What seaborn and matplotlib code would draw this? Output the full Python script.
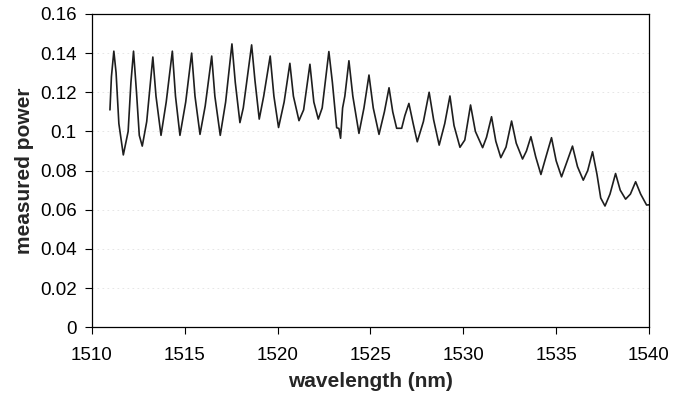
import matplotlib
matplotlib.use('Agg')
import matplotlib.pyplot as plt
import seaborn as sns
import pandas as pd

# values
wavelength = [1510.97, 1511.05, 1511.18, 1511.30, 1511.45, 1511.69, 1511.95, 1512.10, 1512.24, 1512.40,
              1512.55, 1512.71, 1512.95, 1513.28, 1513.45, 1513.72, 1514.00, 1514.33, 1514.50, 1514.74,
              1515.05, 1515.37, 1515.55, 1515.82, 1516.10, 1516.45, 1516.62, 1516.91, 1517.20, 1517.54,
              1517.72, 1517.97, 1518.15, 1518.60, 1518.78, 1519.01, 1519.25, 1519.60, 1519.80, 1520.05,
              1520.35, 1520.66, 1520.85, 1521.15, 1521.40, 1521.74, 1521.95, 1522.19, 1522.40, 1522.76,
              1522.95, 1523.18, 1523.30, 1523.39, 1523.50, 1523.62, 1523.84, 1524.05, 1524.38, 1524.65,
              1524.92, 1525.15, 1525.46, 1525.75, 1526.00, 1526.20, 1526.41, 1526.68, 1526.85, 1527.07,
              1527.30, 1527.52, 1527.85, 1528.16, 1528.40, 1528.70, 1529.00, 1529.28, 1529.50, 1529.82,
              1530.08, 1530.39, 1530.65, 1531.04, 1531.25, 1531.52, 1531.75, 1532.02, 1532.30, 1532.60,
              1532.85, 1533.19, 1533.40, 1533.64, 1533.90, 1534.18, 1534.45, 1534.75, 1535.00, 1535.29,
              1535.60, 1535.88, 1536.15, 1536.46, 1536.70, 1536.96, 1537.20, 1537.40, 1537.63, 1537.90,
              1538.20, 1538.45, 1538.74, 1539.00, 1539.28, 1539.55, 1539.87, 1540.00]
power = [0.111, 0.128, 0.141, 0.130, 0.104, 0.088, 0.100, 0.125, 0.141, 0.120,
         0.098, 0.0925, 0.105, 0.138, 0.118, 0.098, 0.115, 0.141, 0.118, 0.098,
         0.115, 0.140, 0.118, 0.0985, 0.113, 0.1385, 0.118, 0.098, 0.115, 0.1447,
         0.125, 0.1045, 0.112, 0.1442, 0.126, 0.1063, 0.118, 0.1385, 0.118, 0.102,
         0.115, 0.1348, 0.118, 0.1055, 0.111, 0.1343, 0.115, 0.1063, 0.112, 0.1408,
         0.125, 0.1019, 0.1015, 0.0965, 0.112, 0.118, 0.1361, 0.118, 0.099, 0.112,
         0.1288, 0.112, 0.0985, 0.110, 0.1223, 0.110, 0.1016, 0.1016, 0.108, 0.1143,
         0.104, 0.0947, 0.105, 0.120, 0.106, 0.093, 0.104, 0.1181, 0.103, 0.0919,
         0.0956, 0.1135, 0.100, 0.0917, 0.097, 0.1075, 0.095, 0.0866, 0.092, 0.1053,
         0.094, 0.0859, 0.090, 0.0973, 0.087, 0.078, 0.087, 0.0968, 0.085, 0.0768,
         0.085, 0.0925, 0.082, 0.0751, 0.080, 0.0896, 0.078, 0.066, 0.0619, 0.068,
         0.0785, 0.070, 0.0654, 0.068, 0.0743, 0.068, 0.0624, 0.0625]

x_ticks = [1510, 1515, 1520, 1525, 1530, 1535, 1540]
y_ticks = [0, 0.02, 0.04, 0.06, 0.08, 0.1, 0.12, 0.14, 0.16]
y_labels = ['0', '0.02', '0.04', '0.06', '0.08', '0.1', '0.12', '0.14', '0.16']

df = pd.DataFrame({'wavelength': wavelength, 'power': power})

sns.set_style('ticks')
plt.rcParams['font.family'] = ['Liberation Sans', 'DejaVu Sans']

fig = plt.figure(figsize=(6.81, 3.99), dpi=100)
ax = fig.add_axes([0.135, 0.18, 0.818, 0.785])

# faint grid like the scanned excel gridlines
for y in y_ticks[1:]:
    ax.axhline(y, color='#e2e2e2', lw=0.6, ls=(0, (2, 4)), zorder=0)

sns.lineplot(data=df, x='wavelength', y='power', sort=False, color='#1e1e1e', lw=1.2, ax=ax)

ax.set_xlim(1510, 1540)
ax.set_ylim(0, 0.16)
ax.set_xticks(x_ticks)
ax.set_xticklabels([str(t) for t in x_ticks])
ax.set_yticks(y_ticks)
ax.set_yticklabels(y_labels)
ax.tick_params(direction='out', length=5, width=0.8, labelsize=13.5, colors='black')
ax.tick_params(axis='x', pad=9)
ax.tick_params(axis='y', pad=6)
for s in ax.spines.values():
    s.set_visible(True)
    s.set_color('black')
    s.set_linewidth(0.9)

ax.set_xlabel('wavelength (nm)', fontsize=15, fontweight='bold', labelpad=6)
ax.set_ylabel('measured power', fontsize=15, fontweight='bold', labelpad=4)

fig.savefig('out.png', dpi=100)
